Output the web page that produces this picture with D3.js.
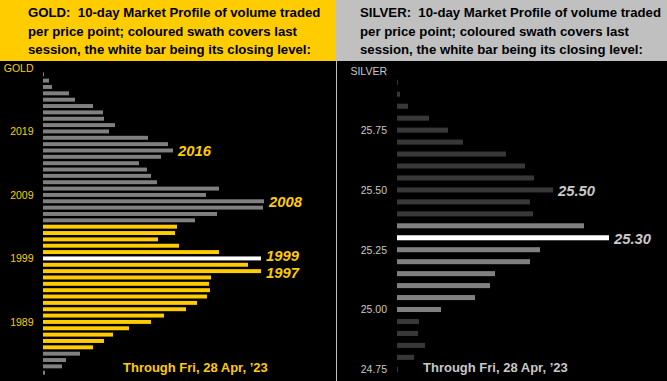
<!DOCTYPE html>
<html>
<head>
<meta charset="utf-8">
<script src="https://cdn.jsdelivr.net/npm/d3@7"></script>
<style>
  html, body { margin: 0; padding: 0; background: #000; }
  svg { display: block; }
</style>
</head>
<body>
<svg id="chart" width="667" height="381"></svg>
<script>
// gold: one row per $1 price point, top to bottom
const goldPrices = d3.range(2028, 1980, -1);
const goldVolumes = [
  1, 6, 9, 26, 32, 50, 60, 61, 72, 66,
  105, 125, 130, 118, 96, 104, 108, 114, 176, 163,
  221, 220, 174, 152, 134, 132, 115, 136, 176, 218,
  205, 218, 168, 166, 167, 164, 154, 143, 121, 108,
  86, 70, 61, 50, 37, 23, 19, 2
];
const goldSession = [1985, 2004];
const goldClose = 1999;
const goldTicks = [2019, 2009, 1999, 1989];
const goldCallouts = [2016, 2008, 1999, 1997];

// silver: one row per 5 cents
const silverPrices = ["25.95", "25.90", "25.85", "25.80", "25.75", "25.70", "25.65", "25.60", "25.55", "25.50",
  "25.45", "25.40", "25.35", "25.30", "25.25", "25.20", "25.15", "25.10", "25.05", "25.00",
  "24.95", "24.90", "24.85", "24.80", "24.75"];
const silverVolumes = [
  1, 3, 11, 32, 51, 66, 109, 128, 137, 156,
  133, 136, 187, 212, 143, 133, 98, 93, 78, 44,
  22, 21, 28, 17, 1
];
const silverSession = [25.00, 25.35];
const silverClose = "25.30";
const silverTicks = ["25.75", "25.50", "25.25", "25.00", "24.75"];
const silverCallouts = ["25.50", "25.30"];

const headerLines = [
  "10-day Market Profile of volume traded",
  "per price point; coloured swath covers last",
  "session, the white bar being its closing level:"
];
const footnote = "Through Fri, 28 Apr, \u201923";

const svg = d3.select("#chart");
const FONT = "Arial, 'Liberation Sans', sans-serif";
const HEADER_H = 61;
const CALLOUT_MIN_GAP = 17;

const panels = [
  {
    name: "GOLD",
    x0: 0, x1: 336,
    headerFill: "#ffcc00",
    headerX: 28,
    prices: goldPrices.map(String),
    volumes: goldVolumes,
    yRange: [71.1, 375.9],
    padding: 0.38,
    barLeft: 43,
    axisX: 33.5,
    labelX: 33.5,
    labelBaseline: 71.7,
    tickValues: goldTicks.map(String),
    callouts: goldCallouts.map(String),
    close: String(goldClose),
    inSession: (p) => +p >= goldSession[0] && +p <= goldSession[1],
    sessionFill: "#ffcc00",
    otherFill: "#808080",
    textFill: "#ffcc00",
    footX: 123,
  },
  {
    name: "SILVER",
    x0: 336, x1: 667,
    headerFill: "#c0c0c0",
    headerX: 360,
    prices: silverPrices,
    volumes: silverVolumes,
    yRange: [76.3, 375.3],
    padding: 0.58,
    barLeft: 397,
    axisX: 387,
    labelX: 387,
    labelBaseline: 75,
    tickValues: silverTicks,
    callouts: silverCallouts,
    close: silverClose,
    inSession: (p) => +p >= silverSession[0] - 1e-9 && +p <= silverSession[1] + 1e-9,
    sessionFill: "#808080",
    otherFill: "#383838",
    textFill: "#c8c8c8",
    footX: 423,
  },
];

// push apart callout labels that would collide (upper one moves most)
function spreadCallouts(items) {
  const sorted = [...items].sort((a, b) => a.cy - b.cy);
  for (let i = 1; i < sorted.length; i++) {
    const gap = sorted[i].cy - sorted[i - 1].cy;
    if (gap < CALLOUT_MIN_GAP) {
      const overlap = CALLOUT_MIN_GAP - gap;
      sorted[i - 1].cy -= overlap * 0.8;
      sorted[i].cy += overlap * 0.2;
    }
  }
  return sorted;
}

panels.forEach((panel) => {
  const g = svg.append("g").attr("class", `panel panel--${panel.name.toLowerCase()}`);

  g.append("rect")
    .attr("x", panel.x0).attr("y", 0)
    .attr("width", panel.x1 - panel.x0).attr("height", 381)
    .attr("fill", "#000");

  g.append("rect")
    .attr("x", panel.x0).attr("y", 0)
    .attr("width", panel.x1 - panel.x0).attr("height", HEADER_H)
    .attr("fill", panel.headerFill);

  const header = g.append("text")
    .attr("font-family", FONT)
    .attr("font-weight", "bold")
    .attr("font-size", 13.2)
    .attr("fill", "#000");
  headerLines.forEach((line, i) => {
    header.append("tspan")
      .attr("x", panel.headerX)
      .attr("y", 16.7 + i * 18.8)
      .text(i === 0 ? `${panel.name}:\u00a0 ${line}` : line);
  });

  const y = d3.scaleBand()
    .domain(panel.prices)
    .range(panel.yRange)
    .paddingInner(panel.padding)
    .paddingOuter(panel.padding / 2);
  const x = d3.scaleLinear().domain([0, 250]).range([panel.barLeft, panel.barLeft + 250]);

  const rows = panel.prices.map((price, i) => ({ price, volume: panel.volumes[i] }));

  g.append("g")
    .selectAll("rect")
    .data(rows)
    .join("rect")
    .attr("x", x(0))
    .attr("y", (d) => y(d.price))
    .attr("width", (d) => x(d.volume) - x(0))
    .attr("height", y.bandwidth())
    .attr("fill", (d) => {
      if (d.price === panel.close) return "#ffffff";
      return panel.inSession(d.price) ? panel.sessionFill : panel.otherFill;
    });

  const axis = g.append("g")
    .attr("transform", `translate(${panel.axisX},0)`)
    .call(d3.axisLeft(y).tickValues(panel.tickValues).tickSize(0).tickPadding(0));
  axis.select(".domain").remove();
  axis.selectAll("text")
    .attr("font-family", FONT)
    .attr("font-size", 10.5)
    .attr("fill", panel.textFill)
    .attr("dy", "0.36em");

  g.append("text")
    .attr("x", panel.labelX)
    .attr("y", panel.labelBaseline)
    .attr("text-anchor", "end")
    .attr("font-family", FONT)
    .attr("font-size", 10.5)
    .attr("fill", panel.textFill)
    .text(panel.name);

  const callouts = spreadCallouts(
    rows
      .filter((d) => panel.callouts.includes(d.price))
      .map((d) => ({ ...d, cy: y(d.price) + y.bandwidth() / 2 + 0.5 }))
  );

  g.append("g")
    .selectAll("text")
    .data(callouts)
    .join("text")
    .attr("x", (d) => x(d.volume) + 5)
    .attr("y", (d) => d.cy + 5.4)
    .attr("font-family", FONT)
    .attr("font-weight", "bold")
    .attr("font-style", "italic")
    .attr("font-size", 14.8)
    .attr("fill", panel.textFill)
    .text((d) => d.price);

  g.append("text")
    .attr("x", panel.footX)
    .attr("y", 372)
    .attr("font-family", FONT)
    .attr("font-weight", "bold")
    .attr("font-size", 13)
    .attr("fill", panel.textFill)
    .text(footnote);
});

// divider between the two panels
svg.append("line")
  .attr("x1", 336.5).attr("x2", 336.5)
  .attr("y1", HEADER_H).attr("y2", 381)
  .attr("stroke", "#c0c0c0")
  .attr("stroke-width", 1);
</script>
</body>
</html>
